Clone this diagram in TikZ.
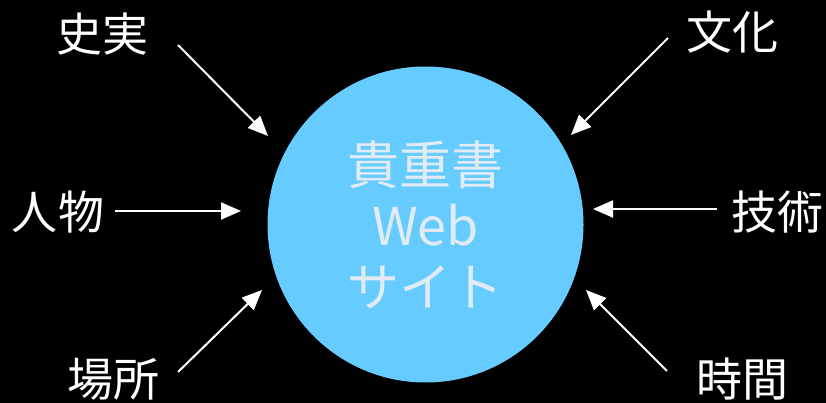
\documentclass[tikz,border=0pt]{standalone}
\usepackage{fontspec}
\usepackage{xcolor}
\usetikzlibrary{arrows.meta,positioning}
\newfontfamily\jpfont{Noto Sans CJK JP}
\definecolor{sitefill}{RGB}{102,204,255}
\definecolor{sitetext}{RGB}{224,235,243}
\tikzset{
	>={Triangle[length=20pt,width=17pt]},
	topic/.style = {
			text      = white,
			inner sep = 0pt,
			font      = \jpfont\fontsize{46}{46}\selectfont,
		},
	site/.style = {
			circle,
			fill          = sitefill,
			text          = sitetext,
			minimum size  = 316pt,
			inner sep     = 0pt,
			align         = center,
			font          = \jpfont\fontsize{52}{61}\selectfont,
		},
	feed/.style = {draw=white, line width=2pt, ->},
}

\begin{document}
\begin{tikzpicture}[x=1pt,y=-1pt]
		\fill[black] (0,0) rectangle (826,403);
		\useasboundingbox (0,0) rectangle (826,403);

		\node[site] at (425.5,224.5) (site) {貴重書\\Web\\サイト};

		\node[topic] at (102,34) (shijitsu) {史実};
		\node[topic] at (732,32) (bunka) {文化};
		\node[topic] at (58,212) (jinbutsu) {人物};
		\node[topic] at (777,212) (gijutsu) {技術};
		\node[topic] at (113,379) (basho) {場所};
		\node[topic] at (742,379) (jikan) {時間};

		\coordinate (shijitsu-a) at (178,45);
		\coordinate (shijitsu-b) at (268,136);
		\coordinate (bunka-a) at (668,38);
		\coordinate (bunka-b) at (571,135);
		\coordinate (jinbutsu-a) at (115,211);
		\coordinate (jinbutsu-b) at (241,211);
		\coordinate (gijutsu-a) at (717,209);
		\coordinate (gijutsu-b) at (593,209);
		\coordinate (basho-a) at (178,372);
		\coordinate (basho-b) at (262,290);
		\coordinate (jikan-a) at (667,371);
		\coordinate (jikan-b) at (586,290);

		\draw[feed] (shijitsu-a) -- (shijitsu-b);
		\draw[feed] (bunka-a) -- (bunka-b);
		\draw[feed] (jinbutsu-a) -- (jinbutsu-b);
		\draw[feed] (gijutsu-a) -- (gijutsu-b);
		\draw[feed] (basho-a) -- (basho-b);
		\draw[feed] (jikan-a) -- (jikan-b);
	\end{tikzpicture}
\end{document}
